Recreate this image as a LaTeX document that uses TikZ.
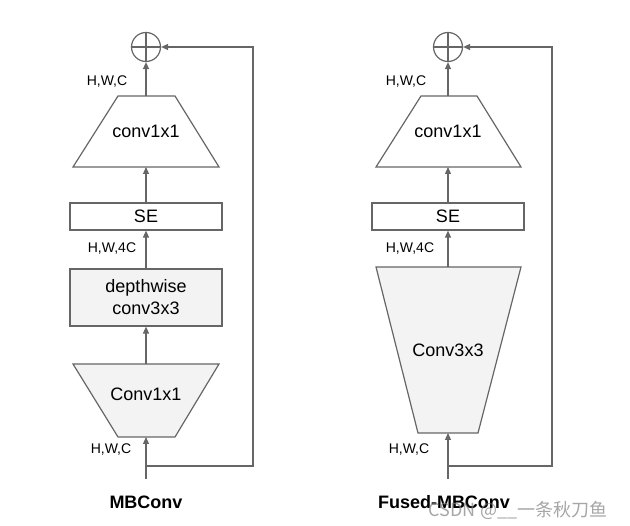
\documentclass[tikz,border=0pt]{standalone}
\usepackage{fontspec}
\setmainfont{Liberation Sans}
\newfontfamily\cjkfont{Noto Sans CJK SC}
\usetikzlibrary{arrows.meta}
\definecolor{linegray}{HTML}{666666}
\definecolor{fillgray}{HTML}{F3F3F3}
\begin{document}
\begin{tikzpicture}[x=1pt,y=-1pt,
  line/.style={draw=linegray, line width=1.2pt},
  arr/.style={line, -{Triangle[length=7pt,width=6pt]}},
  txt/.style={font=\fontsize{18}{22}\selectfont, inner sep=0pt, align=center},
  dimlbl/.style={font=\fontsize{14}{16}\selectfont, inner sep=0pt},
  title/.style={font=\bfseries\fontsize{18}{22}\selectfont, inner sep=0pt},
  addnode/.style={circle, line, minimum size=29pt, inner sep=0pt},
  rectbox/.style={line, minimum width=152pt, inner sep=0pt, font=\fontsize{18}{22}\selectfont, align=center}]
\useasboundingbox (0,0) rectangle (630,526);

% ---------------- MBConv ----------------
\node[addnode] (add1) at (146,47) {};
\draw[line] (add1.north) -- (add1.south) (add1.west) -- (add1.east);
\draw[line] (118,96) -- (175,96) -- (219,167) -- (73,167) -- cycle;
\coordinate (tA1) at (146,96);
\coordinate (tB1) at (146,167);
\node[txt] (tt1) at (146,131) {conv1x1};
\node[rectbox, minimum height=27pt] (se1) at (146,216.5) {SE};
\node[rectbox, minimum height=57pt, fill=fillgray] (dw1) at (146,297.5) {depthwise\\conv3x3};
\draw[line, fill=fillgray] (73,364) -- (219,364) -- (175,437) -- (118,437) -- cycle;
\coordinate (bA1) at (146,364);
\coordinate (bB1) at (146,437);
\node[txt] (bt1) at (146,394) {Conv1x1};
\node[dimlbl] (l1a) at (107,82) {H,W,C};
\node[dimlbl] (l1b) at (112,249) {H,W,4C};
\node[dimlbl] (l1c) at (111,450) {H,W,C};
\coordinate (in1) at (146,479);
\coordinate (br1) at (146,466);
\coordinate (ca1) at (253,466);
\coordinate (cb1) at (253,47);
\draw[arr] (tA1) -- (add1.south);
\draw[arr] (se1.north) -- (tB1);
\draw[arr] (dw1.north) -- (se1.south);
\draw[arr] (bA1) -- (dw1.south);
\draw[arr] (in1) -- (bB1);
\draw[arr] (br1) -- (ca1) -- (cb1) -- (add1.east);
\node[title] (n1) at (146,502) {MBConv};

% ---------------- Fused-MBConv ----------------
\node[addnode] (add2) at (448,47) {};
\draw[line] (add2.north) -- (add2.south) (add2.west) -- (add2.east);
\draw[line] (421,96) -- (477,96) -- (521,167) -- (376,167) -- cycle;
\coordinate (tA2) at (448,96);
\coordinate (tB2) at (448,167);
\node[txt] (tt2) at (448,131) {conv1x1};
\node[rectbox, minimum height=27pt] (se2) at (448,216.5) {SE};
\draw[line, fill=fillgray] (376,267) -- (521,267) -- (478,433) -- (418,433) -- cycle;
\coordinate (bA2) at (448,267);
\coordinate (bB2) at (448,433);
\node[txt] (bt2) at (448,350) {Conv3x3};
\node[dimlbl] (l2a) at (406,82) {H,W,C};
\node[dimlbl] (l2b) at (410,249) {H,W,4C};
\node[dimlbl] (l2c) at (409,450) {H,W,C};
\coordinate (in2) at (448,479);
\coordinate (br2) at (448,466);
\coordinate (ca2) at (552,466);
\coordinate (cb2) at (552,47);
\draw[arr] (tA2) -- (add2.south);
\draw[arr] (se2.north) -- (tB2);
\draw[arr] (bA2) -- (se2.south);
\draw[arr] (in2) -- (bB2);
\draw[arr] (br2) -- (ca2) -- (cb2) -- (add2.east);
\node[title] (n2) at (444,502) {Fused-MBConv};

% watermark
\node[inner sep=0pt, text=gray, opacity=0.7, font=\cjkfont\fontsize{18}{20}\selectfont] (wm) at (518,510) {CSDN @\_\_一条秋刀鱼};
\end{tikzpicture}
\end{document}
